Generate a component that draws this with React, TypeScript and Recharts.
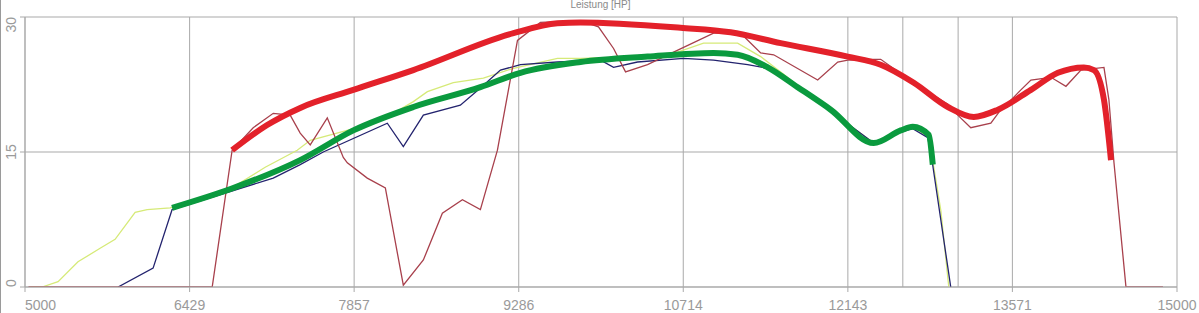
import { CartesianGrid, Line, LineChart, ReferenceLine, XAxis, YAxis } from 'recharts'

// Leistung [HP] over rpm — three raw runs plus two smoothed envelopes.

const X_TICKS = [5000, 6429, 7857, 9286, 10714, 12143, 13571, 15000]
const Y_TICKS = [0, 15, 30]
const MARKERS = [12620, 13100]

// [rpm, hp]
const yellowRun: [number, number][] = [
  [5050, 0], [5148, 0], [5287, 0.6], [5460, 2.8], [5652, 4.3], [5782, 5.3], [5956, 8.3],
  [6060, 8.6], [6260, 8.8], [6520, 9.8], [6807, 11.1], [7085, 13.3], [7363, 15.2],
  [7476, 16.3], [7884, 17.7], [8171, 19.1], [8371, 20.6], [8493, 21.7], [8718, 22.7],
  [8979, 23.2], [9240, 24.3], [9622, 25.4], [9822, 25.4], [10343, 25.6], [10665, 26.1],
  [10890, 27.1], [11186, 27.1], [11386, 25.6], [11560, 23.9], [11846, 21], [12020, 19.3],
  [12367, 16], [12602, 17.4], [12706, 17.8], [12837, 16.7], [12880, 14], [12950, 8.5],
  [13019, 0],
]

const navyRun: [number, number][] = [
  [5808, 0], [6112, 2.1], [6277, 8.6], [6781, 10.6], [7155, 12.1], [7389, 13.6],
  [7589, 15], [8145, 18.2], [8284, 15.6], [8458, 19.1], [8779, 20.2], [8953, 22.1],
  [9127, 24.1], [9301, 24.7], [9622, 25], [9996, 25.2], [10109, 24.4], [10317, 25],
  [10717, 25.4], [10977, 25.2], [11273, 24.7], [11447, 24.3], [11620, 23.2], [11846, 21],
  [12020, 19.3], [12367, 16], [12602, 17.2], [12706, 17.6], [12837, 16.6], [12880, 13.5],
  [13036, 0],
]

const maroonRun: [number, number][] = [
  [5030, 0], [6625, 0], [6798, 15.2], [6981, 17.7], [7155, 19.3], [7302, 19.1],
  [7389, 17.1], [7476, 15.8], [7624, 18.8], [7763, 14.4], [7798, 13.8], [7971, 12.1],
  [8128, 11], [8284, 0.2], [8458, 3], [8623, 8.2], [8797, 9.7], [8953, 8.6], [9101, 15.2],
  [9275, 27.4], [9474, 29.4], [9822, 29.6], [9978, 28.9], [10109, 26.5], [10213, 23.9],
  [10404, 24.7], [10630, 26.1], [10977, 28.2], [11212, 28.2], [11386, 26], [11499, 25.8],
  [11881, 23], [12055, 25], [12142, 25.2], [12367, 25.3], [12428, 25.3], [12715, 22.7],
  [13011, 20.3], [13097, 19.1], [13210, 17.7], [13384, 18.2], [13453, 19.4], [13645, 21.9],
  [13732, 23], [13906, 23.3], [14036, 22.3], [14166, 24.1], [14366, 24.4], [14409, 20.8],
  [14453, 13.8], [14557, 0], [14878, 0],
]

const redCurve: [number, number][] = [
  [6798, 15.2], [7102, 18], [7389, 19.9], [7850, 21.9], [8371, 24.1], [9240, 28.2],
  [9622, 29.3], [9822, 29.4], [10691, 28.8], [11125, 28.3], [11560, 27.1], [12142, 25.6],
  [12428, 24.7], [12715, 22.7], [13011, 20], [13236, 18.9], [13445, 19.7], [13732, 21.9],
  [13966, 23.8], [14192, 24.4], [14279, 24.1], [14366, 20.8], [14427, 14.1],
]

const greenCurve: [number, number][] = [
  [6277, 8.8], [6807, 11], [7389, 14.1], [7850, 17.4], [8371, 20], [8953, 22.2],
  [9301, 23.8], [9822, 25], [10404, 25.6], [10977, 26], [11186, 25.8], [11447, 24.4],
  [11707, 22.2], [11994, 19.7], [12367, 16], [12602, 17.4], [12706, 17.8], [12845, 16.9],
  [12880, 13.6],
]

const toPoints = (pairs: [number, number][]) => pairs.map(([rpm, hp]) => ({ rpm, hp }))

const GRID = '#a9a9a9'
const LABEL = '#9a9a9a'
const FONT = 'Liberation Sans, Arial, sans-serif'

function XTick({ x, y, payload }: any) {
  const first = payload.value === X_TICKS[0]
  return (
    <text x={x} y={y + 18} textAnchor={first ? 'start' : 'middle'} fill={LABEL} fontSize={14} fontFamily={FONT}>
      {payload.value}
    </text>
  )
}

function YTick({ x, y, payload }: any) {
  const v = payload.value
  const anchor = v === 0 ? 'start' : v === 30 ? 'end' : 'middle'
  const tx = x - 4
  return (
    <text
      x={tx}
      y={y}
      transform={`rotate(-90 ${tx} ${y})`}
      textAnchor={anchor}
      fill={LABEL}
      fontSize={14}
      fontFamily={FONT}
    >
      {v}
    </text>
  )
}

export default function App() {
  return (
    <div
      style={{
        position: 'absolute',
        left: 0,
        top: 0,
        width: 1199,
        height: 313,
        background: '#fff',
        borderLeft: '1px solid #9a9a9a',
        boxSizing: 'border-box',
      }}
    >
      <div
        style={{
          position: 'absolute',
          top: -1,
          left: 0,
          width: 1199,
          textAlign: 'center',
          fontFamily: FONT,
          fontSize: 10,
          color: '#8a8a8a',
        }}
      >
        Leistung [HP]
      </div>
      <LineChart width={1198} height={313} margin={{ top: 17, right: 22, left: 0, bottom: 0 }}>
        <CartesianGrid stroke={GRID} strokeWidth={1} />
        <XAxis
          type="number"
          dataKey="rpm"
          domain={[5000, 15000]}
          ticks={X_TICKS}
          interval={0}
          height={26}
          tickSize={5}
          tickMargin={0}
          stroke={GRID}
          tick={<XTick />}
          allowDataOverflow
        />
        <YAxis
          type="number"
          dataKey="hp"
          domain={[0, 30]}
          ticks={Y_TICKS}
          interval={0}
          width={24}
          tickSize={5}
          tickMargin={0}
          stroke={GRID}
          tick={<YTick />}
          allowDataOverflow
        />
        {MARKERS.map((m) => (
          <ReferenceLine key={m} x={m} stroke={GRID} strokeWidth={1} />
        ))}
        <Line data={toPoints(yellowRun)} dataKey="hp" type="linear" stroke="#d6ea78" strokeWidth={1.3} dot={false} isAnimationActive={false} />
        <Line data={toPoints(navyRun)} dataKey="hp" type="linear" stroke="#23236e" strokeWidth={1.3} dot={false} isAnimationActive={false} />
        <Line data={toPoints(maroonRun)} dataKey="hp" type="linear" stroke="#a8404c" strokeWidth={1.3} dot={false} isAnimationActive={false} />
        <Line data={toPoints(redCurve)} dataKey="hp" type="monotone" stroke="#e3212a" strokeWidth={6} dot={false} isAnimationActive={false} />
        <Line data={toPoints(greenCurve)} dataKey="hp" type="monotone" stroke="#0a9a3e" strokeWidth={6} dot={false} isAnimationActive={false} />
      </LineChart>
    </div>
  )
}
